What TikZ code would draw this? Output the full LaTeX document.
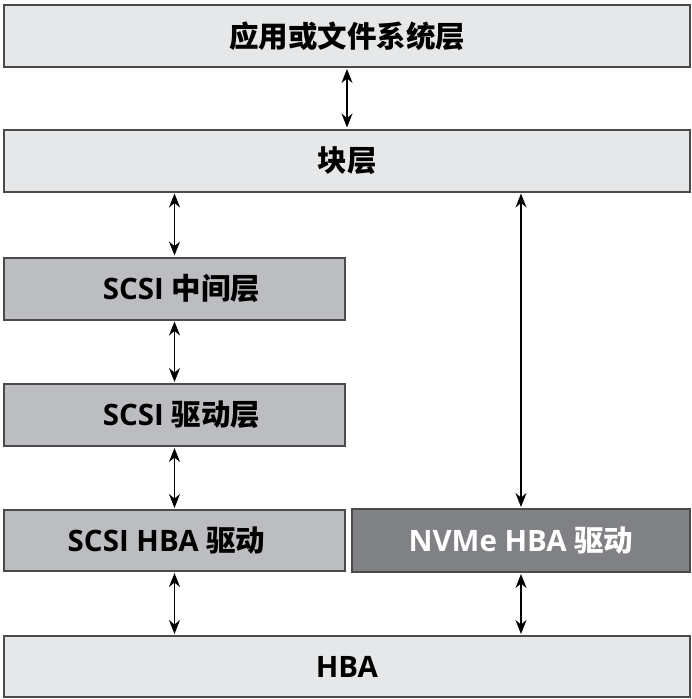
\documentclass[tikz,border=0pt]{standalone}
\usepackage{fontspec}
\setmainfont{Open Sans}
\newfontfamily\cjk{Noto Sans CJK SC}
\usetikzlibrary{arrows.meta}
\definecolor{lightbox}{HTML}{E6E7E8}
\definecolor{midbox}{HTML}{BCBDC0}
\definecolor{darkbox}{HTML}{808184}
\definecolor{edge}{HTML}{4A4A4A}
\tikzset{
  layer/.style={draw=edge, line width=2pt, inner sep=0pt, anchor=center,
    font=\fontsize{29.5}{32}\selectfont\bfseries, text=black},
  wide/.style={layer, fill=lightbox, minimum width=686pt, minimum height=62pt},
  half/.style={layer, fill=midbox, minimum width=341pt, minimum height=62pt},
  nvmebox/.style={layer, fill=darkbox, text=white, minimum width=338pt, minimum height=63pt},
  arr/.style={draw=black, line width=1.4pt, {Stealth[length=14pt,width=11pt]}-{Stealth[length=14pt,width=11pt]}, shorten <=1pt, shorten >=1pt}
}
\begin{document}
\begin{tikzpicture}[x=1pt,y=-1pt]
\useasboundingbox (0,0) rectangle (692,699);
\fill[white] (0,0) rectangle (692,699);
\node[wide] (app) at (347,36) {\cjk\bfseries 应用或文件系统层};
\node[wide] (blk) at (347,160.5) {\cjk\bfseries 块层};
\node[half] (mid) at (174.5,288.5) {\hspace*{14pt}SCSI {\cjk\bfseries 中间层}};
\node[half] (drv) at (174.5,415) {\hspace*{14pt}SCSI {\cjk\bfseries 驱动层}};
\node[half, minimum height=61pt] (shba) at (174.5,540.5) {\hspace*{-16pt}SCSI HBA {\cjk\bfseries 驱动}};
\node[nvmebox] (nvme) at (521,540.5) {NVMe HBA {\cjk\bfseries 驱动}};
\node[wide, minimum height=61pt] (hba) at (347,666.5) {HBA};
\draw[arr] (app.south) -- (blk.north);
\draw[arr] (blk.south -| mid.north) -- (mid.north);
\draw[arr] (mid.south) -- (drv.north);
\draw[arr] (drv.south) -- (shba.north);
\draw[arr] (shba.south) -- (hba.north -| shba.south);
\draw[arr] (blk.south -| nvme.north) -- (nvme.north);
\draw[arr] (nvme.south) -- (hba.north -| nvme.south);
\end{tikzpicture}
\end{document}
